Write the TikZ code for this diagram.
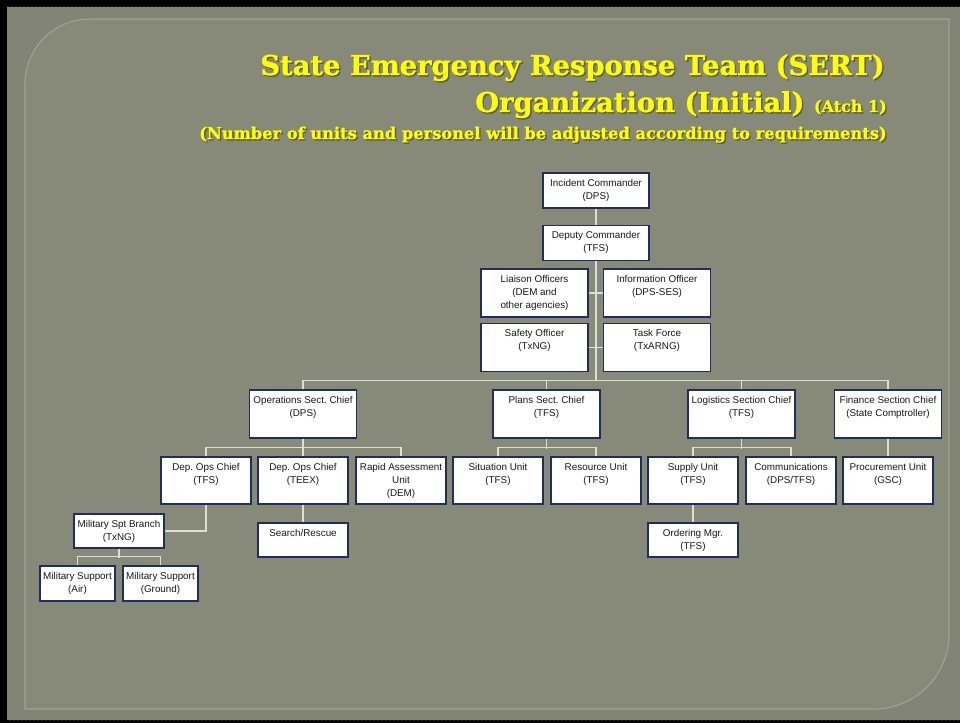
\documentclass[tikz,border=0pt]{standalone}
\usepackage{fontspec}
\setmainfont{Liberation Sans}
\newfontfamily\titlefont{DejaVu Serif}[BoldFeatures={FakeBold=1.2}]
\usetikzlibrary{patterns}
\frenchspacing

\definecolor{panelcol}{RGB}{135,137,121}
\definecolor{framecol}{RGB}{128,130,115}
\definecolor{dotcol}{RGB}{148,150,134}
\definecolor{edgecol}{RGB}{160,162,146}
\definecolor{boxblue}{RGB}{31,46,94}
\definecolor{wirecol}{RGB}{222,222,214}
\definecolor{titleyellow}{RGB}{255,255,0}
\definecolor{shadowcol}{RGB}{90,92,58}

\newcommand{\shadowed}[1]{\leavevmode\rlap{\kern1pt\raisebox{-1pt}{\textcolor{shadowcol}{#1}}}#1}

\tikzset{
  unitbox/.style={rectangle, draw=boxblue, fill=white, line width=0.9pt, inner sep=0pt},
  topbox/.style={unitbox, minimum width=79.5pt, minimum height=26.25pt},
  bigbox/.style={unitbox, minimum width=80.25pt, minimum height=36pt},
  midbox/.style={unitbox, minimum width=67.5pt, minimum height=35.25pt},
  smallbox/.style={unitbox, minimum width=67.5pt, minimum height=25.5pt},
  supbox/.style={unitbox, minimum width=56.25pt, minimum height=26.25pt},
  unittext/.style={anchor=north, align=center, inner sep=5pt, text=black!90,
    font=\frenchspacing\fontsize{7.4}{9.75}\selectfont},
  wire/.style={draw=wirecol, line width=1.2pt},
  titletext/.style={anchor=base east, inner sep=0pt, text=titleyellow,
    font=\titlefont\bfseries\fontsize{20.5}{24}\selectfont}
}

\begin{document}
\begin{tikzpicture}[x=0.75pt,y=-0.75pt]
\useasboundingbox (0,0) rectangle (960,723);

% slide background
\fill[black] (0,0) rectangle (960,723);
\fill[framecol] (7,7) rectangle (960,720);
\fill[pattern=crosshatch dots, pattern color=dotcol] (7,7) rectangle (960,720);
\filldraw[fill=panelcol, draw=edgecol, line width=0.8pt]
  (25,84) .. controls (25,48.1) and (54.1,19) .. (90,19) -- (949,19) -- (949,634)
  .. controls (949,675.4) and (915.4,709) .. (874,709) -- (25,709) -- cycle;

% title
\node[titletext] (title) at (885,75) {\shadowed{State Emergency Response Team (SERT)}};
\node[titletext] (subtitle) at (887,112) {\shadowed{Organization (Initial)}
  {\fontsize{12}{14}\selectfont\shadowed{(Atch 1)}}};
\node[titletext, font=\titlefont\bfseries\fontsize{12.2}{14}\selectfont] (note) at (887,139)
  {\shadowed{(Number of units and personel will be adjusted according to requirements)}};

% command staff
\node[topbox, label={[unittext]north:{Incident Commander\\(DPS)}}] (ic) at (596,190.5) {};
\node[topbox, label={[unittext]north:{Deputy Commander\\(TFS)}}] (dep) at (596,243) {};
\node[bigbox, label={[unittext]north:{Liaison Officers\\(DEM and\\other agencies)}}] (lia) at (534.5,293) {};
\node[bigbox, label={[unittext]north:{Information Officer\\(DPS-SES)}}] (info) at (657,293) {};
\node[bigbox, label={[unittext]north:{Safety Officer\\(TxNG)}}] (safe) at (534.5,347.5) {};
\node[bigbox, label={[unittext]north:{Task Force\\(TxARNG)}}] (task) at (657,347.5) {};

% sections
\node[bigbox, label={[unittext]north:{Operations Sect. Chief\\(DPS)}}] (ops) at (303,414) {};
\node[bigbox, label={[unittext]north:{Plans Sect. Chief\\(TFS)}}] (plans) at (546.5,414) {};
\node[bigbox, label={[unittext]north:{Logistics Section Chief\\(TFS)}}] (log) at (741.5,414) {};
\node[bigbox, label={[unittext]north:{Finance Section Chief\\(State Comptroller)}}] (fin) at (888,414) {};

% units
\node[midbox, label={[unittext]north:{Dep. Ops Chief\\(TFS)}}] (dtfs) at (206,480.5) {};
\node[midbox, label={[unittext]north:{Dep. Ops Chief\\(TEEX)}}] (teex) at (303,480.5) {};
\node[midbox, label={[unittext]north:{Rapid Assessment\\Unit\\(DEM)}}] (rapid) at (401,480.5) {};
\node[midbox, label={[unittext]north:{Situation Unit\\(TFS)}}] (sit) at (498,480.5) {};
\node[midbox, label={[unittext]north:{Resource Unit\\(TFS)}}] (res) at (596,480.5) {};
\node[midbox, label={[unittext]north:{Supply Unit\\(TFS)}}] (sup) at (693,480.5) {};
\node[midbox, label={[unittext]north:{Communications\\(DPS/TFS)}}] (com) at (791,480.5) {};
\node[midbox, label={[unittext]north:{Procurement Unit\\(GSC)}}] (proc) at (888,480.5) {};

\node[smallbox, label={[unittext]north:{Search/Rescue}}] (sr) at (303,540) {};
\node[smallbox, label={[unittext]north:{Ordering Mgr.\\(TFS)}}] (ord) at (693,540) {};
\node[smallbox, label={[unittext]north:{Military Spt Branch\\(TxNG)}}] (mil) at (119,531) {};
\node[supbox, label={[unittext]north:{Military Support\\(Air)}}] (air) at (77.5,583.5) {};
\node[supbox, label={[unittext]north:{Military Support\\(Ground)}}] (gnd) at (160.5,583.5) {};

% connectors
\coordinate (bus) at (596,381);
\draw[wire] (ic.south) -- (dep.north);
\draw[wire] (dep.south) -- (bus);
\draw[wire] (lia.east) -- (lia.east -| dep.south);
\draw[wire] (info.west) -- (info.west -| dep.south);
\draw[wire] (safe.east) -- (safe.east -| dep.south);
\draw[wire] (task.west) -- (task.west -| dep.south);
\draw[wire] (ops.north) -- ++(0,-9) -| (fin.north);
\draw[wire] (plans.north) -- (plans.north |- bus);
\draw[wire] (log.north) -- (log.north |- bus);

\draw[wire] (ops.south) -- (teex.north);
\draw[wire] (dtfs.north) -- ++(0,-9) -| (rapid.north);
\draw[wire] (plans.south) -- ++(0,10);
\draw[wire] (sit.north) -- ++(0,-9) -| (res.north);
\draw[wire] (log.south) -- ++(0,10);
\draw[wire] (sup.north) -- ++(0,-9) -| (com.north);
\draw[wire] (fin.south) -- (proc.north);

\draw[wire] (teex.south) -- (sr.north);
\draw[wire] (sup.south) -- (ord.north);
\draw[wire] (dtfs.south) |- (mil.east);
\draw[wire] (mil.south) -- ++(0,9);
\draw[wire] (air.north) -- ++(0,-9) -| (gnd.north);
\end{tikzpicture}
\end{document}
